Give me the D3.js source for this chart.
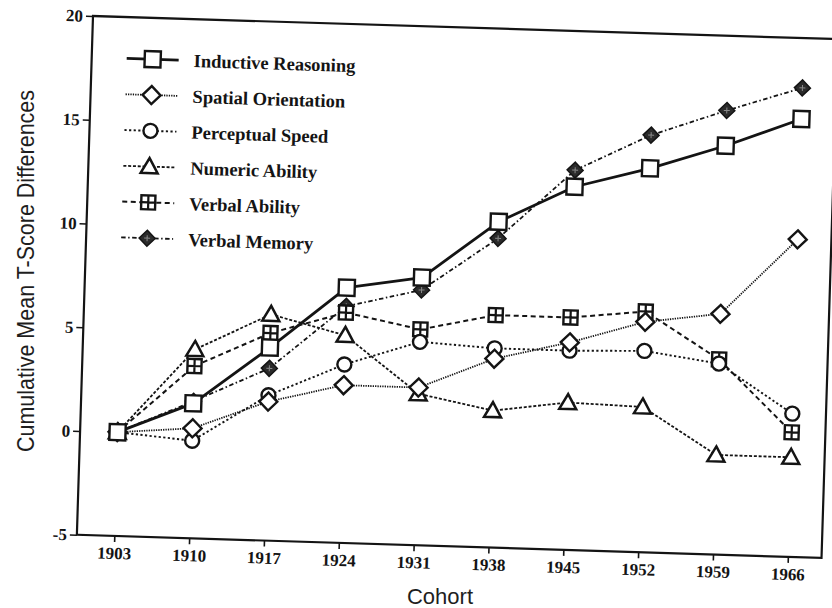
<!DOCTYPE html>
<html>
<head>
<meta charset="utf-8">
<script src="https://cdn.jsdelivr.net/npm/d3@7"></script>
<style>
  body { margin: 0; background: #fff; }
  svg { display: block; }
</style>
</head>
<body>
<svg id="chart" width="832" height="608"></svg>
<script>
// Birth cohorts on the x axis
const cohorts = [1903, 1910, 1917, 1924, 1931, 1938, 1945, 1952, 1959, 1966];

// Cumulative mean T-score differences relative to the 1903 cohort
const inductiveReasoning  = [0, 1.5, 4.3, 7.3, 7.9, 10.7, 12.5, 13.5, 14.7, 16.1];
const spatialOrientation  = [0, 0.3, 1.7, 2.6, 2.6, 4.1, 5.0, 6.1, 6.6, 10.3];
const perceptualSpeed     = [0, -0.3, 2.0, 3.6, 4.8, 4.6, 4.6, 4.7, 4.2, 1.9];
const numericAbility      = [0, 4.1, 5.9, 5.0, 2.3, 1.6, 2.1, 2.0, -0.2, -0.2];
const verbalAbility       = [0, 3.3, 5.0, 6.1, 5.4, 6.2, 6.2, 6.6, 4.4, 1.0];
const verbalMemory        = [0, 1.6, 3.3, 6.4, 7.3, 9.9, 13.3, 15.1, 16.4, 17.6];

const seriesNames = ["Inductive Reasoning", "Spatial Orientation", "Perceptual Speed",
                     "Numeric Ability", "Verbal Ability", "Verbal Memory"];
const yTickValues = [-5, 0, 5, 10, 15, 20];

const seriesValues = [inductiveReasoning, spatialOrientation, perceptualSpeed,
                      numericAbility, verbalAbility, verbalMemory];

// Line and marker styling per series
const styles = [
  { marker: "square",        dash: null,              width: 2.8 },
  { marker: "diamond",       dash: "1.3,1.1",         width: 1.8 },
  { marker: "circle",        dash: "2.2,2.4",         width: 1.9 },
  { marker: "triangle",      dash: "3,1.8",           width: 1.8 },
  { marker: "squarePlus",    dash: "5,3.5",           width: 2.0 },
  { marker: "filledDiamond", dash: "4.5,2.5,1.5,2.5", width: 1.8 }
];

const ink = "#141414";
const W = 745, H = 519;

const svg = d3.select("#chart");

// Plot group, slightly tilted as on the printed page
const g = svg.append("g").attr("transform", "translate(93,16) rotate(1.78)");

const x = d3.scaleLinear().domain([1899.5, 1969.15]).range([0, W]);
const y = d3.scaleLinear().domain([-5, 20]).range([H, 0]);

// Frame
g.append("rect")
  .attr("x", 0).attr("y", 0).attr("width", W).attr("height", H)
  .attr("fill", "none").attr("stroke", ink).attr("stroke-width", 2.2);

// Axes
const tickFont = "'Liberation Serif', 'Times New Roman', serif";
const xAxis = g.append("g").attr("transform", `translate(0,${H})`)
  .call(d3.axisBottom(x).tickValues(cohorts).tickFormat(d3.format("d")).tickSize(6).tickPadding(5));
const yAxis = g.append("g")
  .call(d3.axisLeft(y).tickValues(yTickValues).tickFormat(d => d < 0 ? "-" + Math.abs(d) : d).tickSize(7).tickPadding(3));
[xAxis, yAxis].forEach(a => {
  a.select(".domain").remove();
  a.selectAll(".tick line").attr("stroke", ink).attr("stroke-width", 1.6);
  a.selectAll(".tick text")
    .attr("fill", ink)
    .style("font-family", tickFont)
    .style("font-weight", "bold")
    .style("font-size", "17px");
});

// Marker shapes
function drawMarker(sel, type) {
  sel.each(function() {
    const m = d3.select(this);
    switch (type) {
      case "square":
        m.append("rect").attr("x", -8).attr("y", -8).attr("width", 16).attr("height", 16)
          .attr("fill", "#fff").attr("stroke", ink).attr("stroke-width", 2.4);
        break;
      case "diamond":
        m.append("path").attr("d", "M0,-9L9,0L0,9L-9,0Z")
          .attr("fill", "#fff").attr("stroke", ink).attr("stroke-width", 2.4);
        break;
      case "circle":
        m.append("circle").attr("r", 7)
          .attr("fill", "#fff").attr("stroke", ink).attr("stroke-width", 2.4);
        break;
      case "triangle":
        m.append("path").attr("d", "M0,-8.5L8.5,6.5L-8.5,6.5Z")
          .attr("fill", "#fff").attr("stroke", ink).attr("stroke-width", 2.5)
          .attr("stroke-linejoin", "miter");
        break;
      case "squarePlus":
        m.append("rect").attr("x", -7).attr("y", -7).attr("width", 14).attr("height", 14)
          .attr("fill", "#fff").attr("stroke", ink).attr("stroke-width", 2.4);
        m.append("path").attr("d", "M0,-7V7M-7,0H7")
          .attr("stroke", ink).attr("stroke-width", 2.2);
        break;
      case "filledDiamond":
        m.append("path").attr("d", "M0,-8L8,0L0,8L-8,0Z")
          .attr("fill", "#2b2b2b").attr("stroke", ink).attr("stroke-width", 1.5);
        m.append("path").attr("d", "M-3,0H3M0,-3V3")
          .attr("stroke", "#8a8a8a").attr("stroke-width", 1);
        break;
    }
  });
}

// Series lines and markers (drawn back to front so the solid series sits on top)
const line = d3.line().x((d, i) => x(cohorts[i])).y(d => y(d));
const order = [5, 4, 3, 2, 1, 0];
order.forEach(k => {
  g.append("path")
    .datum(seriesValues[k])
    .attr("d", line)
    .attr("fill", "none")
    .attr("stroke", ink)
    .attr("stroke-width", styles[k].width)
    .attr("stroke-dasharray", styles[k].dash)
    .attr("stroke-linejoin", "round");
});
order.forEach(k => {
  g.append("g").selectAll("g")
    .data(seriesValues[k])
    .join("g")
    .attr("transform", (d, i) => `translate(${x(cohorts[i])},${y(d)})`)
    .call(sel => drawMarker(sel, styles[k].marker));
});

// Legend
const legend = g.append("g");
seriesNames.forEach((name, i) => {
  const cy = 41.4 + i * 35.8;
  const row = legend.append("g").attr("transform", `translate(0,${cy})`);
  row.append("line")
    .attr("x1", 35).attr("x2", 87).attr("y1", 0).attr("y2", 0)
    .attr("stroke", ink)
    .attr("stroke-width", styles[i].width)
    .attr("stroke-dasharray", styles[i].dash);
  row.append("g").attr("transform", "translate(61,0)").call(sel => drawMarker(sel, styles[i].marker));
  row.append("text")
    .attr("x", 102).attr("y", 6.5)
    .attr("fill", ink)
    .style("font-family", tickFont)
    .style("font-weight", "bold")
    .style("font-size", "18.5px")
    .text(name);
});

// Axis titles
const titleFont = "'Liberation Sans', Arial, sans-serif";
svg.append("text")
  .attr("transform", "translate(34,271) rotate(-90)")
  .attr("text-anchor", "middle")
  .attr("fill", "#1e1e1e")
  .attr("textLength", 362)
  .attr("lengthAdjust", "spacingAndGlyphs")
  .style("font-family", titleFont)
  .style("font-size", "24px")
  .text("Cumulative Mean T-Score Differences");

svg.append("text")
  .attr("x", 440).attr("y", 604)
  .attr("text-anchor", "middle")
  .attr("fill", "#1e1e1e")
  .style("font-family", titleFont)
  .style("font-size", "22px")
  .text("Cohort");
</script>
</body>
</html>
